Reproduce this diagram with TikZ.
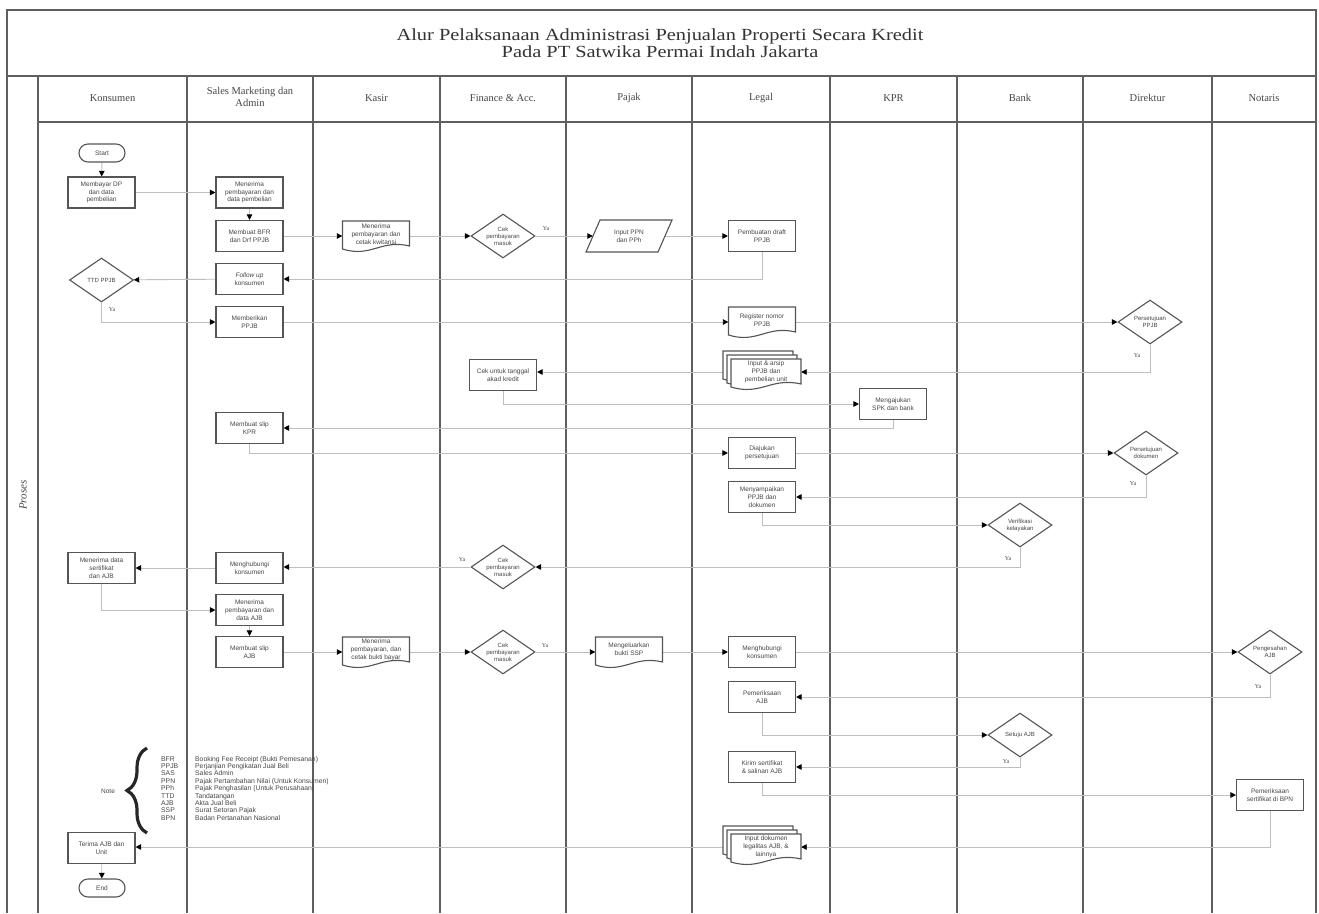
\documentclass[tikz,border=0pt]{standalone}
\usepackage{fontspec}
\setmainfont{Liberation Serif}
\newfontfamily\sansf{Liberation Sans}
\usepackage{graphicx}
\usetikzlibrary{arrows.meta,shapes.geometric,backgrounds,decorations.pathreplacing}
\definecolor{boxc}{RGB}{85,85,85}
\definecolor{lanec}{RGB}{95,95,95}
\definecolor{connc}{RGB}{190,190,190}
\definecolor{txtc}{RGB}{70,70,70}
\newcommand{\nfont}{\sansf\fontsize{6.5}{7.8}\selectfont}
\newcommand{\dfont}{\sansf\fontsize{6}{7}\selectfont}
\newcommand{\yfont}{\fontsize{6}{7}\selectfont}
\newcommand{\hfont}{\fontsize{10.5}{11.5}\selectfont}
\newcommand{\lfont}{\sansf\fontsize{6.8}{7.4}\selectfont}
\newcommand{\docshape}[3][67]{%
  \begin{scope}[shift={(#2,#3)}]
    \draw[draw=boxc,line width=1.1pt,fill=white] ({-#1/2},-15) -- ({#1/2},-15) -- ({#1/2},10) .. controls (5,3) and (-5,22) .. ({-#1/2},13) -- cycle;
  \end{scope}}
\newcommand{\multidocshape}[2]{\docshape[70]{#1-8}{#2-8}\docshape[70]{#1-4}{#2-4}\docshape[70]{#1}{#2}}
\tikzset{
  procbox/.style={draw=boxc, line width=1.1pt, fill=white, minimum width=67pt, minimum height=31pt, inner sep=1pt, align=center, font=\nfont, text=txtc},
  dec/.style={diamond, aspect=1.5, draw=boxc, line width=1.1pt, fill=white, minimum width=64pt, minimum height=44pt, inner sep=0pt, align=center, font=\dfont, text=txtc},
  term/.style={draw=boxc, line width=1.1pt, fill=white, rounded corners=9pt, minimum width=46pt, minimum height=18pt, inner sep=1pt, font=\nfont, text=txtc},
  docnode/.style={draw=none, minimum width=67pt, minimum height=30pt, inner sep=1pt, align=center, font=\nfont, text=txtc},
  conn/.style={draw=connc, line width=0.9pt, -{Triangle[length=5.5pt,width=5.5pt,color=black]}},
  lane/.style={draw=lanec, line width=1.8pt},
  framel/.style={draw=lanec, line width=1.4pt},
  ya/.style={font=\yfont, text=txtc, inner sep=0pt},
  hdr/.style={font=\hfont, text=txtc, align=center},
}
\begin{document}
\begin{tikzpicture}[x=1pt,y=-1pt]
\useasboundingbox (0,0) rectangle (1319,913);
\begin{pgfonlayer}{background}
  \fill[white] (0,0) rectangle (1319,913);
  \draw[framel] (7,913) -- (7,10) -- (1316,10) -- (1316,913);
  \draw[framel] (7,76) -- (1316,76);
  \draw[framel] (38,122) -- (1316,122);
  \foreach \xx in {38,187,313,440,566,692,830,957,1083,1212}
    \draw[lane] (\xx,76) -- (\xx,913);
\end{pgfonlayer}

% title and headers
\node[align=center, font=\fontsize{17}{17}\selectfont, text=black!80] (title) at (660,43)
  {\scalebox{1.2}[1]{Alur Pelaksanaan Administrasi Penjualan Properti Secara Kredit}\\
   \scalebox{1.2}[1]{Pada PT Satwika Permai Indah Jakarta}};
\node[hdr] (hK) at (112.5,98) {Konsumen};
\node[hdr] (hS) at (250,97) {Sales Marketing dan\\Admin};
\node[hdr] (hC) at (376.5,98) {Kasir};
\node[hdr] (hF) at (503,98) {Finance \& Acc.};
\node[hdr] (hP) at (629,98) {Pajak};
\node[hdr] (hL) at (761,98) {Legal};
\node[hdr] (hR) at (893.5,98) {KPR};
\node[hdr] (hB) at (1020,98) {Bank};
\node[hdr] (hD) at (1147.5,98) {Direktur};
\node[hdr] (hN) at (1264,98) {Notaris};
\node[rotate=90, font=\itshape\fontsize{11}{13}\selectfont, text=txtc] (proses) at (23,495) {Proses};

% Konsumen
\node[term] (start) at (102,153) {Start};
\node[procbox] (k1) at (101.5,192.5) {Membayar DP\\dan data\\pembelian};
\node[dec] (k2) at (101.5,280) {TTD PPJB};
\node[procbox] (k3) at (101.5,568) {Menerima data\\sertifikat\\dan AJB};
\node[procbox] (k4) at (101.5,848) {Terima AJB dan\\Unit};
\node[term] (stop) at (102,888) {End};

% Sales Marketing dan Admin
\node[procbox] (s1) at (249.5,192.5) {Menerima\\pembayaran dan\\data pembelian};
\node[procbox] (s2) at (249.5,236) {Membuat BFR\\dan Drf PPJB};
\node[procbox] (s3) at (249.5,279) {\textit{Follow up}\\konsumen};
\node[procbox] (s4) at (249.5,322) {Memberikan\\PPJB};
\node[procbox] (s5) at (249.5,428) {Membuat slip\\KPR};
\node[procbox] (s6) at (249.5,568) {Menghubungi\\konsumen};
\node[procbox] (s7) at (249.5,610) {Menerima\\pembayaran dan\\data AJB};
\node[procbox] (s8) at (249.5,652) {Membuat slip\\AJB};

% Kasir
\docshape{376}{236}
\node[docnode] (c1) at (376,234) {Menerima\\pembayaran dan\\cetak kwitansi};
\docshape{376}{652}
\node[docnode] (c2) at (376,650) {Menerima\\pembayaran, dan\\cetak bukti bayar};

% Finance & Acc.
\node[dec] (f1) at (503,236) {Cek\\pembayaran\\masuk};
\node[procbox] (f2) at (503,375) {Cek untuk tanggal\\akad kredit};
\node[dec] (f3) at (503,567) {Cek\\pembayaran\\masuk};
\node[dec] (f4) at (503,652) {Cek\\pembayaran\\masuk};

% Pajak
\begin{scope}[shift={(629,236)}]
  \draw[draw=boxc,line width=1.1pt,fill=white] (-29,-16) -- (43,-16) -- (29,16) -- (-43,16) -- cycle;
\end{scope}
\node[docnode, minimum width=72pt] (p1) at (629,236) {Input PPN\\dan PPh};
\docshape{629}{652}
\node[docnode] (p2) at (629,649) {Mengeluarkan\\bukti SSP};

% Legal
\node[procbox] (l1) at (762,236) {Pembuatan draft\\PPJB};
\docshape{762}{322}
\node[docnode] (l2) at (762,320) {Register nomor\\PPJB};
\multidocshape{766}{374}
\node[docnode, minimum width=70pt] (l3) at (766,372) {Input \& arsip\\PPJB dan\\pembelian unit};
\node[procbox] (l4) at (762,453) {Diajukan\\persetujuan};
\node[procbox] (l5) at (762,497) {Menyampaikan\\PPJB dan\\dokumen};
\node[procbox] (l6) at (762,652) {Menghubungi\\konsumen};
\node[procbox] (l7) at (762,697) {Pemeriksaan\\AJB};
\node[procbox] (l8) at (762,767) {Kirim sertifikat\\\& salinan AJB};
\multidocshape{766}{849}
\node[docnode, minimum width=70pt] (l9) at (766,847) {Input dokumen\\legalitas AJB, \&\\lainnya};

% KPR
\node[procbox] (r1) at (893,404) {Mengajukan\\SPK dan bank};

% Bank
\node[dec] (b1) at (1020,525) {Verifikasi\\kelayakan};
\node[dec] (b2) at (1020,735) {Setuju AJB};

% Direktur
\node[dec] (d1) at (1150,322) {Persetujuan\\PPJB};
\node[dec] (d2) at (1146,453) {Persetujuan\\dokumen};

% Notaris
\node[dec] (n1) at (1270,652) {Pengesahan\\AJB};
\node[procbox] (n2) at (1270,795) {Pemeriksaan\\sertifikat di BPN};

% Ya labels
\node[ya] (y1) at (546,229) {Ya};
\node[ya] (y2) at (112,310) {Ya};
\node[ya] (y3) at (1137,356) {Ya};
\node[ya] (y4) at (1133,484) {Ya};
\node[ya] (y5) at (1008,559) {Ya};
\node[ya] (y6) at (462,560) {Ya};
\node[ya] (y7) at (545,646) {Ya};
\node[ya] (y8) at (1258,687) {Ya};
\node[ya] (y9) at (1006,762) {Ya};

% Legend
\node[font=\sansf\fontsize{6.5}{7}\selectfont, text=txtc] (note) at (108,791) {Note};
\coordinate (braceB) at (147,833);
\coordinate (braceT) at (147,748);
\draw[line width=3.2pt, black!85, decorate, decoration={brace, amplitude=20pt, aspect=0.5}] (braceB) -- (braceT);
\node[anchor=north west, inner sep=0pt, align=left, font=\lfont, text=txtc] (legend) at (161,756)
 {\makebox[34pt][l]{BFR}Booking Fee Receipt (Bukti Pemesanan)\\
  \makebox[34pt][l]{PPJB}Perjanjian Pengikatan Jual Beli\\
  \makebox[34pt][l]{SAS}Sales Admin\\
  \makebox[34pt][l]{PPN}Pajak Pertambahan Nilai (Untuk Konsumen)\\
  \makebox[34pt][l]{PPh}Pajak Penghasilan (Untuk Perusahaan)\\
  \makebox[34pt][l]{TTD}Tandatangan\\
  \makebox[34pt][l]{AJB}Akta Jual Beli\\
  \makebox[34pt][l]{SSP}Surat Setoran Pajak\\
  \makebox[34pt][l]{BPN}Badan Pertanahan Nasional};

% connectors
\begin{pgfonlayer}{background}
\draw[conn] (start) -- (k1);
\draw[conn] (k1) -- (s1);
\draw[conn] (s1) -- (s2);
\draw[conn] (s2) -- (c1.west |- s2.east);
\draw[conn] (c1.east |- f1.west) -- (f1);
\draw[conn] (f1) -- (p1);
\draw[conn] (p1) -- (l1);
\draw[conn] (l1.south) |- (s3.east);
\draw[conn] (s3) -- (k2);
\draw[conn] (k2.south) |- (s4.west);
\draw[conn] (s4) -- (l2.west |- s4.east);
\draw[conn] (l2.east |- d1.west) -- (d1);
\draw[conn] (d1.south) |- (l3.east);
\draw[conn] (l3.west) -- (f2.east |- l3.west);
\draw[conn] (f2.south) |- (r1.west);
\draw[conn] (r1.south) |- (s5.east);
\draw[conn] (s5.south) |- (l4.west);
\draw[conn] (l4) -- (d2);
\draw[conn] (d2.south) |- (l5.east);
\draw[conn] (l5.south) |- (b1.west);
\draw[conn] (b1.south) |- (f3.east);
\draw[conn] (f3) -- (s6.east |- f3.west);
\draw[conn] (s6) -- (k3);
\draw[conn] (k3.south) |- (s7.west);
\draw[conn] (s7) -- (s8);
\draw[conn] (s8) -- (c2.west |- s8.east);
\draw[conn] (c2.east |- f4.west) -- (f4);
\draw[conn] (f4) -- (p2.west |- f4.east);
\draw[conn] (p2.east |- l6.west) -- (l6);
\draw[conn] (l6) -- (n1);
\draw[conn] (n1.south) |- (l7.east);
\draw[conn] (l7.south) |- (b2.west);
\draw[conn] (b2.south) |- (l8.east);
\draw[conn] (l8.south) |- (n2.west);
\draw[conn] (n2.south) |- (l9.east);
\draw[conn] (l9.west) -- (k4.east |- l9.west);
\draw[conn] (k4) -- (stop);
\end{pgfonlayer}
\end{tikzpicture}
\end{document}
